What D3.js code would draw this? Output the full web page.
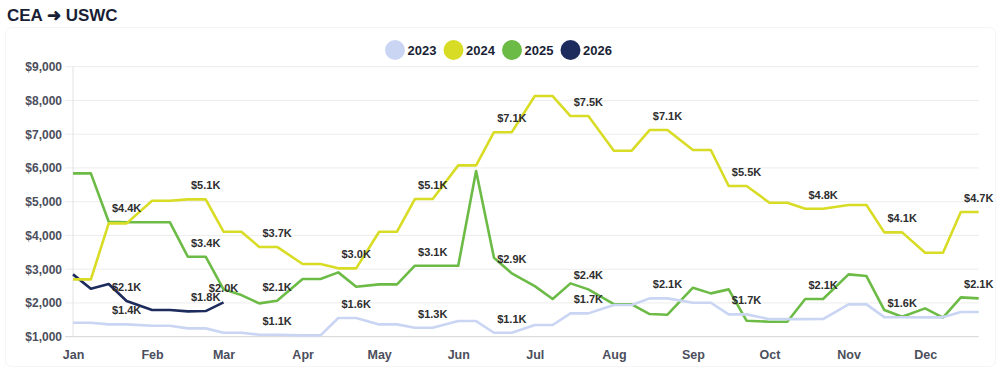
<!DOCTYPE html>
<html>
<head>
<meta charset="utf-8">
<script src="https://cdn.jsdelivr.net/npm/d3@7"></script>
<style>
  body { margin: 0; background: #fff; }
  svg { display: block; font-family: "Liberation Sans", Arial, Helvetica, sans-serif; }
</style>
</head>
<body>
<script>
// categories: four points a month (1st, 8th, 15th, 22nd)
var months = ['Jan','Feb','Mar','Apr','May','Jun','Jul','Aug','Sep','Oct','Nov','Dec']
var weekDays = [1, 8, 15, 22]
var years = ['2023', '2024', '2025', '2026']
var yTicks = [1000, 2000, 3000, 4000, 5000, 6000, 7000, 8000, 9000]

// series values ($)
var v2023 = [1414,1414,1365,1365, 1326,1326,1247,1247, 1118,1118,1059,1059,
             1039,1039,1553,1553, 1365,1365,1266,1266, 1464,1464,1118,1118,
             1346,1346,1691,1691, 1938,1938,2136,2136, 2007,2007,1661,1661,
             1520,1520,1520,1523, 1958,1958,1580,1575, 1573,1573,1731,1731]
var v2024 = [2698,2698,4358,4358, 5029,5029,5069,5069, 4111,4111,3660,3660,
             3153,3153,3025,3025, 4111,4111,5079,5079, 6076,6076,7060,7060,
             8131,8131,7538,7538, 6511,6511,7123,7123, 6531,6531,5464,5464,
             4970,4970,4792,4792, 4901,4901,4091,4091, 3489,3489,4694,4694]
var v2025 = [5840,5840,4407,4390, 4390,4390,3370,3370, 2402,2234,1987,2066,
             2708,2708,2906,2481, 2550,2550,3104,3104, 3104,5909,3341,2876,
             2500,2116,2580,2402, 1967,1958,1671,1652, 2452,2284,2402,1474,
             1444,1444,2116,2116, 2847,2797,1790,1590, 1840,1563,2165,2136]
var v2026 = [2847,2422,2560,2057, 1790,1790,1750,1760, 2017]

var colors = { '2023': '#c9d5f3', '2024': '#d8dc25', '2025': '#6cbb46', '2026': '#1d2b5d' }

var dates = []
months.forEach(function (m, mi) {
  weekDays.forEach(function (d) { dates.push(new Date(2025, mi, d)) })
})

var series = [
  { name: '2023', values: v2023 },
  { name: '2024', values: v2024 },
  { name: '2025', values: v2025 },
  { name: '2026', values: v2026 }
]

var W = 1001, H = 369
var plotL = 73, plotR = 978.7, plotT = 66.7, plotB = 336.7

var svg = d3.select('body').append('svg')
  .attr('width', W)
  .attr('height', H)

// faint card outline
svg.append('rect')
  .attr('x', 5.5).attr('y', 27.5)
  .attr('width', W - 11).attr('height', H - 30)
  .attr('rx', 6)
  .attr('fill', 'none')
  .attr('stroke', '#f5f5f5')

// title
svg.append('text')
  .attr('x', 7)
  .attr('y', 21)
  .attr('font-size', '17px')
  .attr('font-weight', 'bold')
  .attr('fill', '#1a1f36')
  .text('CEA \u279C USWC')

// scales
var xScale = d3.scaleTime()
  .domain([dates[0], dates[dates.length - 1]])
  .range([plotL, plotR])
var yScale = d3.scaleLinear()
  .domain([1000, 9000])
  .range([plotB, plotT])

// gridlines
svg.append('g')
  .selectAll('line')
  .data(yTicks.slice(1))
  .enter()
  .append('line')
    .attr('x1', plotL - 8)
    .attr('x2', plotR)
    .attr('y1', function (d) { return yScale(d) })
    .attr('y2', function (d) { return yScale(d) })
    .attr('stroke', '#ececec')
    .attr('stroke-width', 1)

svg.append('line')
  .attr('x1', plotL).attr('x2', plotL)
  .attr('y1', plotT).attr('y2', plotB)
  .attr('stroke', '#e2e2e2')
svg.append('line')
  .attr('x1', plotL - 8).attr('x2', plotR)
  .attr('y1', plotB).attr('y2', plotB)
  .attr('stroke', '#d4d4d4')

// Y-axis labels
var yAxis = d3.axisLeft(yScale)
  .tickValues(yTicks)
  .tickFormat(function (d) { return '$' + d3.format(',')(d) })
  .tickSize(0)
  .tickPadding(11)
var gy = svg.append('g')
  .attr('transform', 'translate(' + plotL + ',0)')
  .call(yAxis)
gy.select('.domain').remove()
gy.selectAll('text')
  .attr('font-family', null)
  .attr('font-size', '12px')
  .attr('font-weight', 'bold')
  .attr('fill', '#4b4e5c')

// X-axis labels
var xAxis = d3.axisBottom(xScale)
  .ticks(d3.timeMonth.every(1))
  .tickFormat(d3.timeFormat('%b'))
  .tickSize(0)
  .tickPadding(13)
var gx = svg.append('g')
  .attr('transform', 'translate(0,' + plotB + ')')
  .call(xAxis)
gx.select('.domain').remove()
gx.selectAll('text')
  .attr('font-family', null)
  .attr('font-size', '12.5px')
  .attr('font-weight', 'bold')
  .attr('fill', '#4b4e5c')

// lines (first dataset drawn on top)
var line = d3.line()
  .x(function (d, i) { return xScale(dates[i]) })
  .y(function (d) { return yScale(d) })

svg.append('g')
  .selectAll('path')
  .data(series.slice().reverse())
  .enter()
  .append('path')
    .attr('d', function (s) { return line(s.values) })
    .attr('fill', 'none')
    .attr('stroke', function (s) { return colors[s.name] })
    .attr('stroke-width', 2.6)
    .attr('stroke-linejoin', 'round')

// data labels on every 4th point and the last point; hide overlaps per date
var labels = []
series.forEach(function (s) {
  s.values.forEach(function (v, i) {
    if (i % 4 === 3 || i === s.values.length - 1) {
      labels.push({ i: i, v: v, y: yScale(v) })
    }
  })
})
var shown = []
d3.groups(labels, function (d) { return d.i }).forEach(function (g) {
  var kept = []
  g[1].sort(function (a, b) { return b.v - a.v }).forEach(function (l) {
    var clash = kept.some(function (k) { return Math.abs(k.y - l.y) < 21 })
    if (!clash) { kept.push(l); shown.push(l) }
  })
})

svg.append('g')
  .selectAll('text')
  .data(shown)
  .enter()
  .append('text')
    .attr('x', function (d) { return xScale(dates[d.i]) })
    .attr('y', function (d) { return d.y - 10 })
    .attr('text-anchor', 'middle')
    .attr('font-size', '11px')
    .attr('font-weight', 'bold')
    .attr('fill', '#2e2e2e')
    .text(function (d) { return '$' + (d.v / 1000).toFixed(1) + 'K' })

// legend
var legend = svg.append('g')
  .attr('transform', 'translate(395,50)')
var item = legend.selectAll('g')
  .data(years)
  .enter()
  .append('g')
    .attr('transform', function (d, i) { return 'translate(' + (i * 58.5) + ',0)' })
item.append('circle')
  .attr('r', 10)
  .attr('fill', function (d) { return colors[d] })
item.append('text')
  .attr('x', 12.5)
  .attr('dy', '0.36em')
  .attr('font-size', '13px')
  .attr('font-weight', 'bold')
  .attr('fill', '#1a1f36')
  .text(function (d) { return d })
</script>
</body>
</html>
